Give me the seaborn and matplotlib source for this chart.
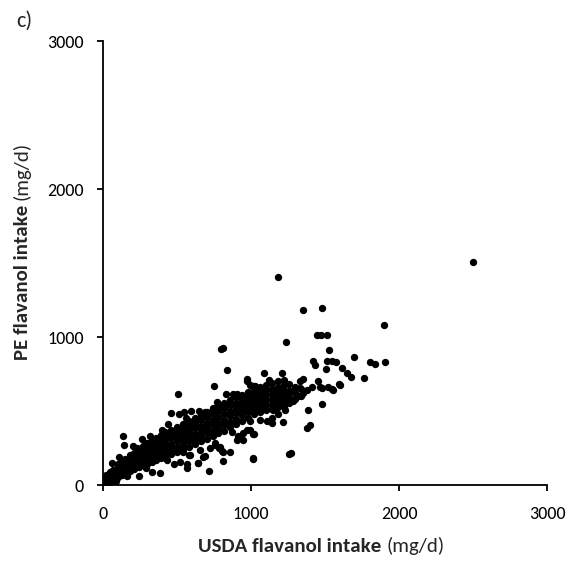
import matplotlib
matplotlib.use("Agg")
import matplotlib.pyplot as plt
from matplotlib.transforms import IdentityTransform
import seaborn as sns
import pandas as pd

# ---------------- data (USDA flavanol intake, PE flavanol intake), mg/d ----------------
x_ticks = [0, 1000, 2000, 3000]
y_ticks = [0, 1000, 2000, 3000]

# dense core of the cloud, low intakes
band_low = [
    (3, 25), (8, 2), (25, 5), (10, 15),
    (20, 8), (20, 38), (20, 68),
    (45, 20), (45, 55), (45, 90),
    (70, 40), (70, 72), (70, 104),
    (100, 55), (100, 88), (100, 120), (100, 142),
    (125, 70), (125, 100), (125, 135), (125, 165),
    (150, 85), (150, 115), (150, 148), (150, 178),
    (180, 97), (180, 130), (180, 165), (180, 200),
    (210, 108), (210, 140), (210, 175), (210, 215),
    (240, 122), (240, 155), (240, 190), (240, 222), (240, 245),
    (270, 132), (270, 165), (270, 200), (270, 232), (270, 262),
    (300, 145), (300, 178), (300, 212), (300, 248), (300, 282),
    (330, 158), (330, 192), (330, 226), (330, 262), (330, 300),
    (360, 170), (360, 205), (360, 240), (360, 275), (360, 318),
    (390, 180), (390, 214), (390, 250), (390, 285), (390, 320), (390, 338),
]

# dense core of the cloud, middle intakes
band_mid = [
    (420, 194), (420, 228), (420, 262), (420, 296), (420, 330), (420, 355),
    (460, 210), (460, 245), (460, 280), (460, 315), (460, 348), (460, 375),
    (500, 226), (500, 260), (500, 295), (500, 330), (500, 362), (500, 395),
    (540, 243), (540, 278), (540, 312), (540, 346), (540, 380), (540, 415),
    (580, 259), (580, 294), (580, 328), (580, 362), (580, 400), (580, 435),
    (620, 277), (620, 312), (620, 346), (620, 382), (620, 420), (620, 455),
    (660, 295), (660, 330), (660, 365), (660, 400), (660, 440), (660, 475),
    (700, 313), (700, 348), (700, 385), (700, 420), (700, 460), (700, 495),
    (740, 331), (740, 368), (740, 405), (740, 440), (740, 478), (740, 515),
    (780, 349), (780, 385), (780, 422), (780, 460), (780, 498), (780, 535),
    (820, 368), (820, 405), (820, 442), (820, 480), (820, 518), (820, 555),
]

# dense core of the cloud, high intakes
band_high = [
    (860, 390), (860, 427), (860, 464), (860, 500), (860, 538), (860, 575),
    (900, 412), (900, 448), (900, 484), (900, 520), (900, 556), (900, 592),
    (940, 434), (940, 470), (940, 505), (940, 540), (940, 575), (940, 610),
    (980, 456), (980, 490), (980, 525), (980, 560), (980, 595), (980, 628),
    (1020, 478), (1020, 512), (1020, 546), (1020, 580), (1020, 614), (1020, 647),
    (1060, 494), (1060, 528), (1060, 562), (1060, 596), (1060, 630), (1060, 662),
    (1100, 504), (1100, 538), (1100, 572), (1100, 606), (1100, 640), (1100, 675),
    (1140, 514), (1140, 548), (1140, 582), (1140, 616), (1140, 652), (1140, 688),
    (1180, 525), (1180, 560), (1180, 595), (1180, 630), (1180, 665), (1180, 700),
    (1220, 535), (1220, 570), (1220, 605), (1220, 640), (1220, 675), (1220, 712),
    (1260, 555), (1260, 595), (1260, 633), (1260, 680),
    (1300, 580), (1300, 620), (1300, 660),
    (1340, 600), (1340, 650),
]

# scattered points above the core
scatter_upper = [
    (137, 328), (144, 272), (266, 308), (227, 249), (441, 414),
    (459, 487), (514, 480), (549, 491), (592, 498), (509, 616),
    (689, 494), (745, 521), (747, 672), (797, 916), (808, 928),
    (835, 779), (831, 616), (903, 616), (971, 701), (975, 713),
    (993, 679), (1027, 667), (1016, 667), (1088, 760), (1212, 758),
    (1236, 966), (1182, 1405), (60, 150), (110, 190), (200, 262),
    (320, 330), (400, 370), (560, 452), (650, 500), (770, 562),
    (880, 612), (1120, 712),
]

# scattered points to the right of the core
scatter_right = [
    (1353, 1184), (1480, 1195), (1897, 1078), (1448, 1014), (1511, 1011),
    (1473, 1011), (1524, 912), (1696, 867), (1421, 837), (1432, 812),
    (1515, 837), (1545, 837), (1574, 830), (1507, 785), (1615, 792),
    (1804, 833), (1838, 815), (1907, 833), (1650, 754), (1673, 731),
    (1761, 726), (1597, 684), (1556, 645), (1601, 679), (1477, 550),
    (1387, 504), (1399, 407), (1376, 385), (1213, 423), (1139, 419),
    (1020, 346), (1268, 213), (1013, 174), (1257, 211),
    (1331, 701), (1409, 663), (1466, 660), (1520, 660), (1545, 649),
    (1477, 656), (1354, 622), (1286, 577), (1230, 509), (1263, 633),
    (1320, 600), (1331, 656), (1286, 565), (1218, 532), (1151, 509),
    (1196, 589), (1376, 645), (1139, 453), (1061, 441), (993, 430),
    (1353, 713), (1455, 701), (2500, 1505),
]

# scattered points below the core
scatter_lower = [
    (245, 61), (328, 90), (385, 84), (480, 143), (520, 154), (569, 143),
    (583, 204), (639, 151), (569, 113), (644, 147), (718, 93),
    (588, 204), (689, 193), (813, 165), (723, 249), (757, 272),
    (791, 260), (813, 226), (858, 226), (903, 306), (948, 306),
    (993, 374), (1011, 346), (1105, 430), (655, 238), (678, 192),
    (1016, 181), (760, 284), (782, 250), (805, 227), (914, 328),
    (970, 374), (948, 351), (90, 30), (160, 60), (290, 118),
    (430, 170), (540, 222), (870, 360), (1180, 480),
]

rows = band_low + band_mid + band_high + scatter_upper + scatter_right + scatter_lower
df = pd.DataFrame(rows, columns=["usda", "pe"])

# ---------------- figure ----------------
sns.set_style("ticks")
plt.rcParams["font.family"] = ["Carlito", "Lato", "DejaVu Sans"]

W, H = 572, 565
fig = plt.figure(figsize=(W / 100, H / 100), dpi=100)
ax = fig.add_axes([103 / W, 80 / H, 444 / W, 444 / H])

sns.scatterplot(data=df, x="usda", y="pe", color="black", s=28,
                linewidth=0, ax=ax, legend=False)

ax.set_xlim(0, 3000)
ax.set_ylim(0, 3000)
ax.set_xticks(x_ticks)
ax.set_yticks(y_ticks)
ax.set_xticklabels([str(v) for v in x_ticks])
ax.set_yticklabels([str(v) for v in y_ticks])
ax.set_xlabel("")
ax.set_ylabel("")
for side in ["top", "right"]:
    ax.spines[side].set_visible(False)
for side in ["left", "bottom"]:
    ax.spines[side].set_linewidth(1.3)
    ax.spines[side].set_color("black")
ax.tick_params(axis="both", direction="out", length=4, width=1.3,
               color="black", labelsize=13, labelcolor="black")
ax.tick_params(axis="x", pad=11)
ax.tick_params(axis="y", pad=10)

fs = 15
ident = IdentityTransform()
fig.canvas.draw()
r = fig.canvas.get_renderer()
sp = fs * 100 / 72 * 0.24

# x label: bold part + regular part
t1 = fig.text(198, 13, "USDA flavanol intake", fontsize=fs, fontweight="bold",
              ha="left", va="baseline", transform=ident)
w1 = t1.get_window_extent(r).width
fig.text(198 + w1 + sp, 13, "(mg/d)", fontsize=fs, ha="left", va="baseline",
         transform=ident)

# y label: bold part + regular part (rotated)
t3 = fig.text(28, 205, "PE flavanol intake", fontsize=fs, fontweight="bold",
              rotation=90, rotation_mode="anchor", ha="left", va="baseline",
              transform=ident)
h1 = t3.get_window_extent(r).height
fig.text(28, 205 + h1 + sp, "(mg/d)", fontsize=fs, rotation=90,
         rotation_mode="anchor", ha="left", va="baseline", transform=ident)

# panel letter
fig.text(16, H - 27, "c)", fontsize=16, ha="left", va="baseline", transform=ident)

fig.savefig("out.png", dpi=100)
